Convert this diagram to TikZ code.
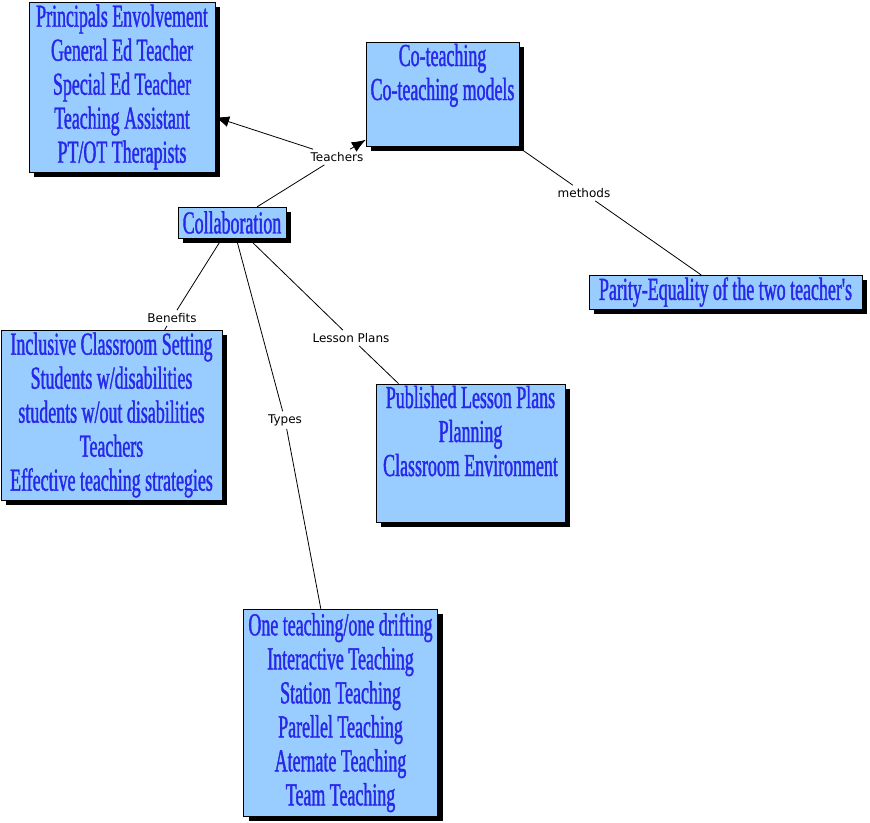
\documentclass[tikz,border=0pt]{standalone}
\usepackage{fontspec}
\setmainfont{DejaVu Sans}
\newfontfamily\conceptfont[FakeStretch=0.56, FakeBold=1.2]{Liberation Serif}
\usetikzlibrary{arrows.meta, shadows}
\definecolor{conceptfill}{RGB}{153,204,255}
\definecolor{concepttext}{RGB}{40,40,235}

\begin{document}
\begin{tikzpicture}[%
  x=1pt, y=-1pt,
  concept/.style={draw=black, fill=conceptfill, text=concepttext, align=center,
    font=\conceptfont\fontsize{32}{34}\selectfont, inner sep=2pt,
    drop shadow={shadow xshift=5pt, shadow yshift=-5pt, fill=black, opacity=1}},
  linkword/.style={font=\fontsize{12}{14}\selectfont, inner sep=3pt},
  conn/.style={draw=black, line width=0.8pt},
  arr/.style={conn, -{Latex[length=14pt, width=11pt]}}]
  \useasboundingbox (0,0) rectangle (870,822);
  % concepts
  \node[concept, minimum width=186pt, minimum height=170pt] (staff) at (122,87)
    {Principals Envolvement\\General Ed Teacher\\Special Ed Teacher\\Teaching Assistant\\PT/OT Therapists};
  \node[concept, minimum width=153pt, minimum height=104pt] (coteach) at (442.5,94)
    {Co-teaching\\Co-teaching models\\\strut};
  \node[concept, minimum width=108pt, minimum height=31pt] (collab) at (232,222.5) {Collaboration};
  \node[concept, minimum width=273pt, minimum height=32pt] (parity) at (725.5,292)
    {Parity-Equality of the two teacher's};
  \node[concept, minimum width=221pt, minimum height=170pt] (benefits) at (111.5,415)
    {Inclusive Classroom Setting\\Students w/disabilities\\students w/out disabilities\\Teachers\\Effective teaching strategies};
  \node[concept, minimum width=189pt, minimum height=138pt] (lessons) at (470.5,453)
    {Published Lesson Plans\\Planning\\Classroom Environment\\\strut};
  \node[concept, minimum width=194pt, minimum height=207pt] (types) at (340.5,712.5)
    {One teaching/one drifting\\Interactive Teaching\\Station Teaching\\Parellel Teaching\\Aternate Teaching\\Team Teaching};
  % linking words
  \node[linkword] (lteach) at (337,157) {Teachers};
  \node[linkword] (lmethods) at (584,193) {methods};
  \node[linkword] (lbenefits) at (172,318) {Benefits};
  \node[linkword] (llessons) at (351,338) {Lesson Plans};
  \node[linkword] (ltypes) at (285,420) {Types};
  % connections
  \draw[conn] (collab) -- (lteach);
  \draw[arr] (lteach) -- (staff);
  \draw[arr] (lteach) -- (coteach);
  \draw[conn] (coteach) -- (lmethods);
  \draw[conn] (lmethods) -- (parity);
  \draw[conn] (collab) -- (lbenefits);
  \draw[conn] (lbenefits) -- (benefits);
  \draw[conn] (collab) -- (llessons);
  \draw[conn] (llessons) -- (lessons);
  \draw[conn] (collab) -- (ltypes);
  \draw[conn] (ltypes) -- (types);
\end{tikzpicture}
\end{document}
